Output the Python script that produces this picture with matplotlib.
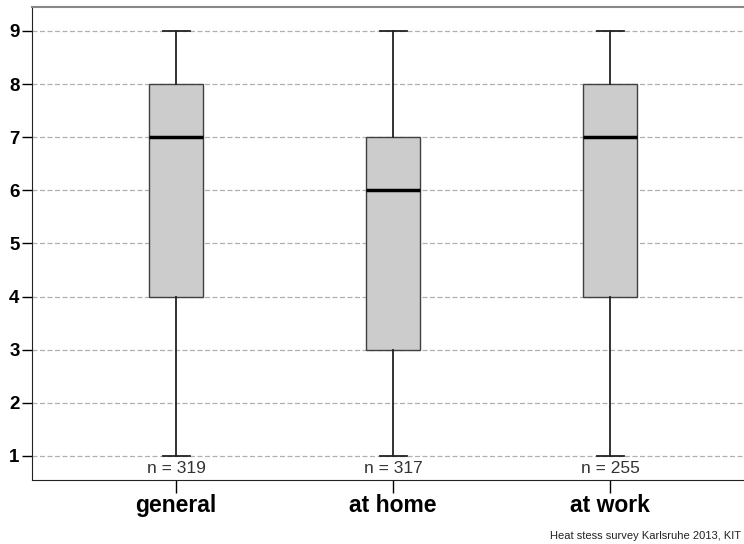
import matplotlib

matplotlib.use("Agg")
import matplotlib.pyplot as plt

# Boxplot summary
groups = ["general", "at home", "at work"]
whislo = [1, 1, 1]
q1 = [4, 3, 4]
med = [7, 6, 7]
q3 = [8, 7, 8]
whishi = [9, 9, 9]
counts = [319, 317, 255]
yticks = [1, 2, 3, 4, 5, 6, 7, 8, 9]

plt.rcParams["font.family"] = ["Liberation Sans", "DejaVu Sans"]

fig = plt.figure(figsize=(7.44, 5.44), dpi=100)
ax = fig.add_axes([32 / 744, 1 - 480 / 544, 1 - 32 / 744, 473 / 544])

stats = [dict(label=g, whislo=lo, q1=a, med=m, q3=b, whishi=hi, fliers=[])
         for g, lo, a, m, b, hi in zip(groups, whislo, q1, med, q3, whishi)]
pos = [1, 2, 3]
ax.bxp(stats, positions=pos, widths=0.25, patch_artist=True,
       boxprops=dict(facecolor="#cccccc", edgecolor="#404040", linewidth=1.0),
       medianprops=dict(color="black", linewidth=2.5),
       whiskerprops=dict(color="#222222", linewidth=1.3),
       capprops=dict(color="#222222", linewidth=1.3),
       capwidths=0.125, zorder=3)

for p, n in zip(pos, counts):
    ax.text(p, 0.9, f"n = {n}", ha="center", va="top", fontsize=12.5,
            color="#333333", zorder=4)

ax.set_xlim(0.336, 3.617)
ax.set_ylim(0.548, 9.45)
ax.set_yticks(yticks)
ax.set_yticklabels([str(v) for v in yticks], fontsize=13.5, fontweight="bold")
ax.set_xticks(pos)
ax.set_xticklabels(groups, fontsize=16.5, fontweight="bold")
ax.tick_params(axis="y", length=7, width=1, pad=2)
ax.tick_params(axis="x", length=9, width=1, pad=1)
ax.yaxis.grid(True, linestyle=(0, (4, 2)), color="#b0b0b0", linewidth=0.9)
ax.set_axisbelow(True)

ax.spines["right"].set_visible(False)
ax.spines["top"].set_color("#888888")
ax.spines["top"].set_linewidth(1.5)
ax.spines["left"].set_color("#222222")
ax.spines["bottom"].set_color("#222222")

fig.text(741 / 744, 3 / 544, "Heat stess survey Karlsruhe 2013, KIT", ha="right",
         va="bottom", fontsize=8, color="#222222")

fig.savefig("out.png", dpi=100)
